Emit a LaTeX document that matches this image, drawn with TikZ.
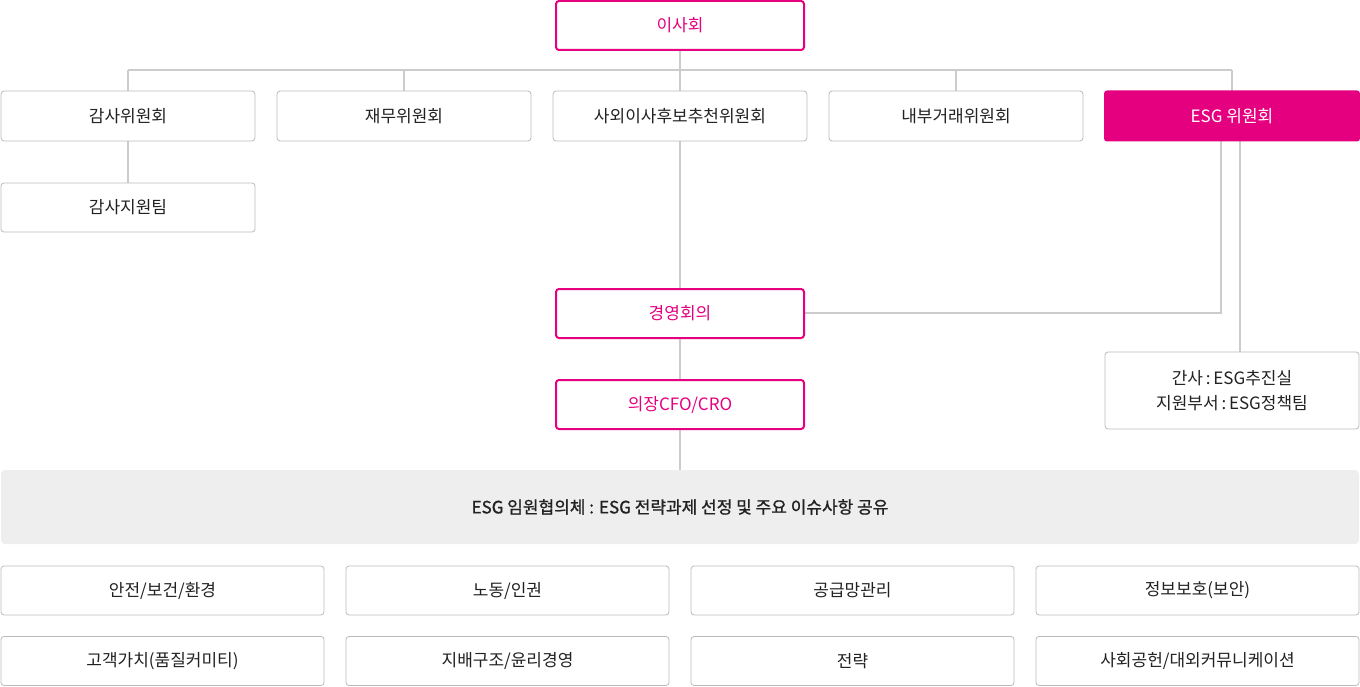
\documentclass[tikz,border=0pt]{standalone}
\usepackage{fontspec}
\setmainfont{Noto Sans CJK KR}
\newfontfamily\medfont[FakeBold=1]{Noto Sans CJK KR}
\definecolor{pink}{HTML}{E4007F}
\definecolor{line}{HTML}{CCCCCC}
\definecolor{bord}{HTML}{BBBBBB}
\definecolor{band}{HTML}{EEEEEE}
\definecolor{txt}{HTML}{222222}
\begin{document}
\begin{tikzpicture}[x=1pt,y=-1pt,
  every node/.style={font=\fontsize{17}{23}\selectfont, text=txt, inner sep=0pt, align=center},
  gbox/.style={draw=bord, line width=0.8pt, rounded corners=3pt, fill=white},
  pbox/.style={draw=pink, line width=2pt, rounded corners=3pt, fill=white, text=pink},
  fbox/.style={fill=pink, rounded corners=3pt, text=white},
  conn/.style={draw=line, line width=1.2pt}]
\useasboundingbox (0,0) rectangle (1360,687);
% connectors
\coordinate (hl) at (128,70);
\coordinate (hr) at (1232,70);
\draw[conn] (hl) -- (hr);
\draw[conn] (680,50) -- (680,70);
\foreach \x in {128,404,680,956,1232} \draw[conn] (\x,70) -- (\x,91);
\draw[conn] (128,141) -- (128,183);
\draw[conn] (680,141) -- (680,470);
\draw[conn] (804,313) -- (1221,313) -- (1221,141);
\draw[conn] (1240,141) -- (1240,352);
% nodes
\node[pbox, minimum width=248, minimum height=49] (board) at (680,25.5) {이사회};
\node[gbox, minimum width=254, minimum height=50] (audit) at (128,116) {감사위원회};
\node[gbox, minimum width=254, minimum height=50] (fin) at (404,116) {재무위원회};
\node[gbox, minimum width=254, minimum height=50] (rec) at (680,116) {사외이사후보추천위원회};
\node[gbox, minimum width=254, minimum height=50] (intr) at (956,116) {내부거래위원회};
\node[fbox, minimum width=256, minimum height=51] (esg) at (1232,116) {ESG 위원회};
\node[gbox, minimum width=254, minimum height=49] (audt) at (128,207.5) {감사지원팀};
\node[pbox, minimum width=248, minimum height=49] (mgmt) at (680,313.5) {경영회의};
\node[pbox, minimum width=248, minimum height=49] (cfo) at (680,404.5) {의장CFO/CRO};
\node[gbox, minimum width=254, minimum height=77, font=\fontsize{17}{25}\selectfont] (sec) at (1232,390.5) {간사\,:\,ESG추진실\\지원부서\,:\,ESG정책팀};
\node[fill=band, rounded corners=4pt, minimum width=1358, minimum height=74, font=\fontsize{17}{23}\medfont] (council) at (680,507) {ESG 임원협의체 : ESG 전략과제 선정 및 주요 이슈사항 공유};
\foreach \n/\x/\y/\t in {
  a1/162.5/590.5/{안전/보건/환경}, a2/507.5/590.5/{노동/인권}, a3/852.5/590.5/{공급망관리}, a4/1197.5/590.5/{정보보호(보안)},
  b1/162.5/661/{고객가치(품질커미티)}, b2/507.5/661/{지배구조/윤리경영}, b3/852.5/661/{전략}, b4/1197.5/661/{사회공헌/대외커뮤니케이션}}
  \node[gbox, minimum width=323, minimum height=49] (\n) at (\x,\y) {\t};
\end{tikzpicture}
\end{document}
